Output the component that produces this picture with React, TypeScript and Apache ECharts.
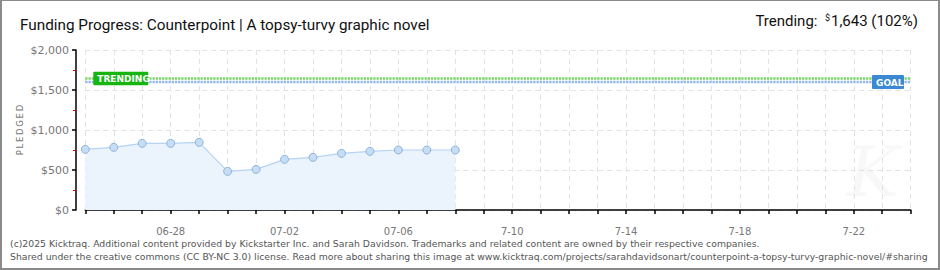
import React, { useEffect, useRef } from "react";
import * as echarts from "echarts";

// Daily categories along the x axis (campaign window)
const categories = [
  "06-25", "06-26", "06-27", "06-28", "06-29", "06-30",
  "07-01", "07-02", "07-03", "07-04", "07-05", "07-06", "07-07", "07-08",
  "7-09", "7-10", "7-11", "7-12", "7-13", "7-14", "7-15", "7-16",
  "7-17", "7-18", "7-19", "7-20", "7-21", "7-22", "7-23", "7-24",
];

// Pledged totals per day (USD)
const pledged = [758, 783, 833, 833, 846, 483, 508, 633, 658, 708, 733, 750, 750, 750];

const trendingValue = 1643;
const trendingPct = 102;
const goalValue = 1600;

const yMin = 0;
const yMax = 2000;
const yInterval = 500;

const titleText = "Funding Progress: Counterpoint | A topsy-turvy graphic novel";
const footerLines = [
  "(c)2025 Kicktraq. Additional content provided by Kickstarter Inc. and Sarah Davidson. Trademarks and related content are owned by their respective companies.",
  "Shared under the creative commons (CC BY-NC 3.0) license. Read more about sharing this image at www.kicktraq.com/projects/sarahdavidsonart/counterpoint-a-topsy-turvy-graphic-novel/#sharing",
];

const W = 940;
const H = 270;
const pixelFont = "'DejaVu Sans', sans-serif";
const headFont = "Roboto, 'Liberation Sans', sans-serif";

export default function App() {
  const ref = useRef<HTMLDivElement>(null);

  useEffect(() => {
    if (!ref.current) return;
    const chart = echarts.init(ref.current, null, { renderer: "svg" });

    const option: any = {
      animation: false,
      backgroundColor: "#ffffff",
      grid: { left: 85.3, right: 29.3, top: 50, bottom: 60, containLabel: false },
      xAxis: {
        type: "category",
        data: categories,
        boundaryGap: false,
        offset: 10,
        axisLine: { show: true, lineStyle: { color: "#000", width: 1.5 } },
        axisTick: { show: true, length: 4, interval: 0, lineStyle: { color: "#000", width: 1.5 } },
        axisLabel: {
          interval: (i: number) => i % 4 === 3,
          color: "#777",
          fontSize: 10,
          fontFamily: pixelFont,
          margin: 6,
        },
        splitLine: {
          show: true,
          interval: 0,
          lineStyle: { color: "#e2e2e2", type: [5, 4], width: 1 },
        },
      },
      yAxis: {
        type: "value",
        min: yMin,
        max: yMax,
        interval: yInterval,
        offset: 9.3,
        axisLine: { show: true, lineStyle: { color: "#000", width: 1.5 } },
        axisTick: { show: true, length: 4, lineStyle: { color: "#000", width: 1.5 } },
        minorTick: { show: true, splitNumber: 2, length: 3, lineStyle: { color: "#e00000", width: 1 } },
        axisLabel: {
          color: "#777",
          fontSize: 11,
          fontFamily: pixelFont,
          margin: 7,
          formatter: (v: number) => "$" + v.toLocaleString("en-US"),
        },
        splitLine: { show: true, lineStyle: { color: "#e2e2e2", type: [5, 4], width: 1 } },
      },
      series: [
        {
          name: "Trending",
          type: "line",
          data: categories.map(() => trendingValue),
          symbol: "none",
          silent: true,
          lineStyle: { color: "#7fd36d", width: 2.5, type: [2.3, 0.9] },
          z: 3,
        },
        {
          name: "Goal",
          type: "line",
          data: categories.map(() => goalValue),
          symbol: "none",
          silent: true,
          lineStyle: { color: "#94b8e6", width: 2.5, type: [2.3, 0.9] },
          z: 3,
        },
        {
          name: "Pledged",
          type: "line",
          data: pledged,
          symbol: "circle",
          symbolSize: 8,
          itemStyle: { color: "#c6ddf6", borderColor: "#8fb2da", borderWidth: 1 },
          lineStyle: { color: "#b5d3f3", width: 1.2 },
          areaStyle: { color: "#ebf3fc", opacity: 1 },
          z: 4,
        },
      ],
    };

    chart.setOption(option);

    const [xStart, yTrend] = chart.convertToPixel({ gridIndex: 0 }, [0, trendingValue]) as number[];
    const [xEnd, yGoal] = chart.convertToPixel({ gridIndex: 0 }, [categories.length - 1, goalValue]) as number[];

    const badge = (
      x: number,
      cy: number,
      w: number,
      h: number,
      fill: string,
      text: string
    ) => [
      { type: "rect", z: 50, shape: { x, y: cy - h / 2, width: w, height: h, r: 1 }, style: { fill } },
      {
        type: "text",
        z: 51,
        style: {
          x: x + 4,
          y: cy + 0.5,
          text,
          fill: "#fff",
          font: `bold 9px ${pixelFont}`,
          textVerticalAlign: "middle",
        },
      },
    ];

    const graphics: any[] = [
      // outer frame
      { type: "rect", z: 60, shape: { x: 0, y: 0, width: W, height: 1 }, style: { fill: "#8a8a8a" } },
      { type: "rect", z: 60, shape: { x: 0, y: 0, width: 2, height: H }, style: { fill: "#8a8a8a" } },
      { type: "rect", z: 60, shape: { x: W - 2, y: 0, width: 2, height: H }, style: { fill: "#8a8a8a" } },
      { type: "rect", z: 60, shape: { x: 0, y: H - 2, width: W, height: 2 }, style: { fill: "#8a8a8a" } },
      // watermark
      {
        type: "text",
        z: -10,
        style: {
          x: 873,
          y: 172,
          text: "K",
          fill: "#f8f8f8",
          font: `italic 70px 'DejaVu Serif', serif`,
          textAlign: "center",
          textVerticalAlign: "middle",
        },
      },
      // heading
      {
        type: "text",
        style: {
          x: 20,
          y: 25,
          text: titleText,
          fill: "#111",
          font: `15.3px ${headFont}`,
          textVerticalAlign: "middle",
        },
      },
      {
        type: "text",
        style: {
          x: 918,
          y: 21,
          text: `{a|Trending:  }{s|$}{a|${trendingValue.toLocaleString("en-US")} (${trendingPct}%)}`,
          textAlign: "right",
          textVerticalAlign: "middle",
          rich: {
            a: { fill: "#111", font: `15px ${headFont}` },
            s: { fill: "#111", font: `9px ${headFont}`, verticalAlign: "top", padding: [0, 1, 6, 0] },
          },
        },
      },
      // axis name
      {
        type: "text",
        rotation: Math.PI / 2,
        x: 20,
        y: 130,
        style: {
          x: 0,
          y: 0,
          text: "P\u2009L\u2009E\u2009D\u2009G\u2009E\u2009D",
          fill: "#777",
          font: `8.5px ${pixelFont}`,
          textAlign: "center",
          textVerticalAlign: "middle",
        },
      },
      ...badge(xStart + 8, yTrend, 55, 13.5, "#16b512", "TRENDING"),
      ...badge(xEnd - 6.7 - 32, yGoal, 32, 14, "#3a89d2", "GOAL"),
      {
        type: "text",
        style: {
          x: 10,
          y: 243,
          text: footerLines[0],
          fill: "#555",
          font: `9.3px ${pixelFont}`,
          textVerticalAlign: "middle",
        },
      },
      {
        type: "text",
        style: {
          x: 10,
          y: 256,
          text: footerLines[1],
          fill: "#555",
          font: `9.3px ${pixelFont}`,
          textVerticalAlign: "middle",
        },
      },
    ];

    chart.setOption({ graphic: graphics });

    return () => chart.dispose();
  }, []);

  return (
    <div
      ref={ref}
      style={{ position: "fixed", left: 0, top: 0, width: W, height: H, background: "#fff" }}
    />
  );
}
